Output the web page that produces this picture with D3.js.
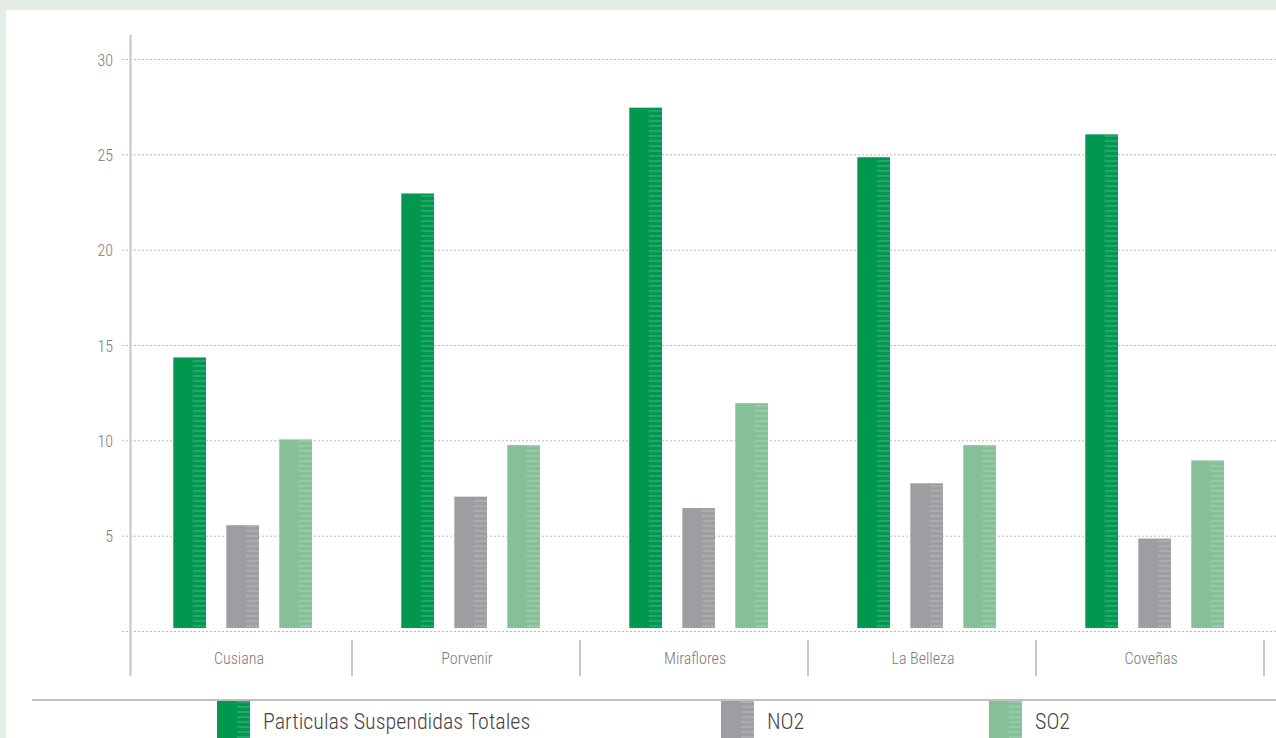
<!DOCTYPE html>
<html>
<head>
<meta charset="utf-8">
<script src="https://cdn.jsdelivr.net/npm/d3@7"></script>
<style>
  body { margin: 0; background: #e3ede3; }
  #chart { position: absolute; left: 0; top: 0; }
  text { font-family: "Roboto Condensed", "Liberation Sans Narrow", "Arial Narrow", sans-serif; font-weight: 300; }
</style>
</head>
<body>
<div id="chart"></div>
<script>
// data
var stations = ["Cusiana", "Porvenir", "Miraflores", "La Belleza", "Coveñas"];
var pst = [14.4, 23.0, 27.5, 24.9, 26.1];
var no2 = [5.6, 7.1, 6.5, 7.8, 4.9];
var so2 = [10.1, 9.8, 12.0, 9.8, 9.0];
var yTicks = [5, 10, 15, 20, 25, 30];

var seriesNames = ["Particulas Suspendidas Totales", "NO2", "SO2"];
var seriesColors = ["#00974f", "#9d9ea1", "#86c098"];
var seriesValues = [pst, no2, so2];

var width = 1276, height = 738;

var svg = d3.select("#chart")
	.append("svg")
	.attr("width", width)
	.attr("height", height);

// white panel
svg.append("rect")
	.attr("x", 6).attr("y", 10)
	.attr("width", width - 6).attr("height", height - 10)
	.attr("fill", "#fff");

// stripe pattern for the bar texture
var defs = svg.append("defs");
defs.append("pattern")
	.attr("id", "stripes")
	.attr("patternUnits", "userSpaceOnUse")
	.attr("width", 8).attr("height", 5)
	.append("rect")
	.attr("width", 8).attr("height", 2)
	.attr("fill", "rgba(255,255,255,0.14)");

//Scales
var x0 = d3.scaleBand()
	.domain(stations)
	.range([128, 1268]);

var x1 = d3.scaleBand()
	.domain(d3.range(3))
	.range([0, 139])
	.paddingInner(0.377);

var y = d3.scaleLinear()
	.domain([0, 30])
	.range([632, 60]);

//Grid lines
var grid = svg.append("g").attr("class", "grid");
grid.selectAll("line")
	.data([0].concat(yTicks))
	.enter()
	.append("line")
	.attr("x1", 122)
	.attr("x2", width)
	.attr("y1", function(d) { return y(d) - 0.5; })
	.attr("y2", function(d) { return y(d) - 0.5; })
	.attr("stroke", "#b8b8b8")
	.attr("stroke-width", 1)
	.attr("stroke-dasharray", "2,2");

//Y axis labels
svg.append("g")
	.selectAll("text")
	.data(yTicks)
	.enter()
	.append("text")
	.attr("x", 113)
	.attr("y", function(d) { return y(d); })
	.attr("dy", "0.35em")
	.attr("text-anchor", "end")
	.attr("fill", "#7a7a7a")
	.style("font-size", "16px")
	.text(function(d) { return d; });

//Y axis line
svg.append("line")
	.attr("x1", 130.5).attr("x2", 130.5)
	.attr("y1", 35).attr("y2", 676)
	.attr("stroke", "#c6c6c6")
	.attr("stroke-width", 2);

//Category separators
svg.append("g")
	.selectAll("line")
	.data(stations)
	.enter()
	.append("line")
	.attr("x1", function(d) { return x0(d) + x0.bandwidth() - 4; })
	.attr("x2", function(d) { return x0(d) + x0.bandwidth() - 4; })
	.attr("y1", 640).attr("y2", 676)
	.attr("stroke", "#c6c6c6")
	.attr("stroke-width", 2);

//Category labels
svg.append("g")
	.selectAll("text")
	.data(stations)
	.enter()
	.append("text")
	.attr("x", function(d) { return x0(d) + x0.bandwidth() / 2 - 3; })
	.attr("y", 664)
	.attr("text-anchor", "middle")
	.attr("fill", "#7a7a7a")
	.style("font-size", "16px")
	.text(function(d) { return d; });

//Bars
var groups = svg.append("g")
	.selectAll("g")
	.data(stations)
	.enter()
	.append("g")
	.attr("transform", function(d) { return "translate(" + (x0(d) + 45) + ",0)"; });

var bars = groups.selectAll("g.bar")
	.data(function(d, i) {
		return seriesValues.map(function(vals, s) { return { s: s, v: vals[i] }; });
	})
	.enter()
	.append("g")
	.attr("class", "bar");

bars.append("rect")
	.attr("x", function(d) { return x1(d.s); })
	.attr("y", function(d) { return y(d.v); })
	.attr("width", x1.bandwidth())
	.attr("height", function(d) { return y(0) - 4 - y(d.v); })
	.attr("fill", function(d) { return seriesColors[d.s]; });

bars.append("rect")
	.attr("x", function(d) { return x1(d.s) + x1.bandwidth() * 0.6; })
	.attr("y", function(d) { return y(d.v); })
	.attr("width", x1.bandwidth() * 0.4)
	.attr("height", function(d) { return y(0) - 4 - y(d.v); })
	.attr("fill", "url(#stripes)");

bars.append("rect")
	.attr("x", function(d) { return x1(d.s); })
	.attr("y", function(d) { return y(d.v); })
	.attr("width", 1)
	.attr("height", function(d) { return y(0) - 4 - y(d.v); })
	.attr("fill", "rgba(255,255,255,0.3)");

//Legend
svg.append("line")
	.attr("x1", 32).attr("x2", width)
	.attr("y1", 700).attr("y2", 700)
	.attr("stroke", "#a9aaa9")
	.attr("stroke-width", 1.5);

var legendX = [217, 721, 989];

var legend = svg.append("g")
	.selectAll("g")
	.data(seriesNames)
	.enter()
	.append("g")
	.attr("transform", function(d, i) { return "translate(" + legendX[i] + ",701)"; });

legend.append("rect")
	.attr("width", 33).attr("height", 40)
	.attr("fill", function(d, i) { return seriesColors[i]; });

legend.append("rect")
	.attr("x", 20).attr("width", 13).attr("height", 40)
	.attr("fill", "url(#stripes)");

legend.append("text")
	.attr("x", 46)
	.attr("y", 28)
	.attr("fill", "#444")
	.style("font-size", "22px")
	.text(function(d) { return d; });
</script>
</body>
</html>
